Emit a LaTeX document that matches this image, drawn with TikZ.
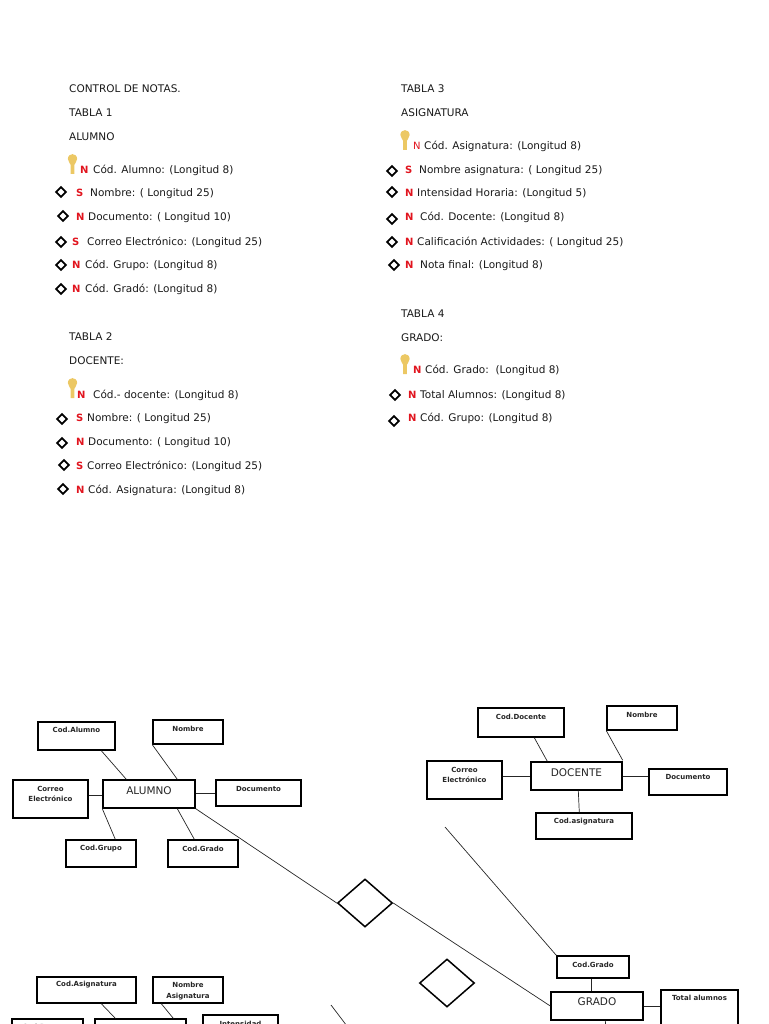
\documentclass[tikz,border=0pt]{standalone}
\usepackage{fontspec}
\setmainfont{DejaVu Sans}
\usetikzlibrary{shapes.geometric,calc}
\definecolor{keygold}{RGB}{236,200,100}
\definecolor{notered}{RGB}{225,20,30}
\tikzset{
  x=1pt,y=-1pt,
  txt/.style={anchor=base west,inner sep=0pt,font=\fontsize{10.5}{12}\selectfont,text=black!90},
  flag/.style={anchor=base west,inner sep=0pt,font=\fontsize{10}{12}\selectfont\bfseries,text=notered},
  flagthin/.style={anchor=base west,inner sep=0pt,font=\fontsize{10}{12}\selectfont,text=notered},
  bullet/.style={diamond,draw=black,line width=1.8pt,inner sep=0pt,minimum width=10.5pt,minimum height=10.5pt},
  entity/.style={draw=black,line width=1.4pt,inner sep=0pt,font=\fontsize{10.5}{12}\selectfont,text=black!85},
  attrib/.style={draw=black,line width=1.4pt,inner sep=0pt,font=\fontsize{7}{10.5}\selectfont\bfseries,align=center,text=black!85},
  rel/.style={diamond,draw=black,line width=1.5pt,inner sep=0pt,minimum width=55pt,minimum height=48pt},
  conn/.style={draw=black!85,line width=.7pt},
}
% box: name, x0, y0, x1, y1, text, text-y
\newcommand{\ebox}[8][attrib]{%
  \node[#1,minimum width=#5pt-#3pt,minimum height=#6pt-#4pt] (#2) at ({(#3+#5)/2},{(#4+#6)/2}) {};
  \node[#1,draw=none,anchor=center] (#2t) at ({(#3+#5)/2},#8) {#7};
}
% field row
\newcommand{\frow}[8]{%
  \node[bullet] (#1d) at (#2,#3) {};
  \node[flag] (#1f) at (#4,#7+4.4) {#5};
  \node[txt] (#1t) at (#6,#7+4.4) {#8};
}
\newcommand{\krow}[8]{%
  \fill[keygold] (#2-4.6,#3) .. controls (#2-4.6,#3-6.5) and (#2+4.6,#3-6.5) .. (#2+4.6,#3)
     .. controls (#2+4.6,#3+3) and (#2+2,#3+4) .. (#2+1.8,#3+6) -- (#2+1.8,#3+15) -- (#2-1.8,#3+15) -- (#2-1.8,#3+6)
     .. controls (#2-2,#3+4) and (#2-4.6,#3+3) .. (#2-4.6,#3) -- cycle;
  \node[#7] (#1f) at (#4,#5+4.4) {N};
  \node[txt] (#1t) at (#6,#5+4.4) {#8};
}
\newcommand{\lbl}[4]{\node[txt] (#1) at (#2,#3+4.4) {#4};}
\begin{document}
\begin{tikzpicture}
\useasboundingbox (0,0) rectangle (768,1024);
\clip (0,0) rectangle (768,1024);
% --- Table 1
\lbl{ta}{69}{88}{CONTROL DE NOTAS.}
\lbl{tb}{69}{112}{TABLA 1}
\lbl{tc}{69}{136}{ALUMNO}
\krow{a0}{72.5}{159}{80}{169}{93}{flag}{Cód. Alumno: (Longitud 8)}
\frow{a1}{61}{192}{76}{S}{90}{192}{Nombre: ( Longitud 25)}
\frow{a2}{63}{216}{76}{N}{88}{216}{Documento: ( Longitud 10)}
\frow{a3}{61}{242}{72}{S}{87}{241}{Correo Electrónico: (Longitud 25)}
\frow{a4}{61}{265}{72}{N}{85}{264}{Cód. Grupo: (Longitud 8)}
\frow{a5}{61}{289}{72}{N}{85}{288}{Cód. Gradó: (Longitud 8)}
% --- Table 2
\lbl{td}{69}{336}{TABLA 2}
\lbl{te}{69}{360}{DOCENTE:}
\krow{b0}{72.5}{383}{77}{394}{93}{flag}{Cód.- docente: (Longitud 8)}
\frow{b1}{62}{419}{76}{S}{87}{417}{Nombre: ( Longitud 25)}
\frow{b2}{62}{443}{76}{N}{88}{441}{Documento: ( Longitud 10)}
\frow{b3}{64}{465}{76}{S}{87}{465}{Correo Electrónico: (Longitud 25)}
\frow{b4}{63}{489}{76}{N}{88}{489}{Cód. Asignatura: (Longitud 8)}
% --- Table 3
\lbl{tf}{401}{88}{TABLA 3}
\lbl{tg}{401}{112}{ASIGNATURA}
\krow{c0}{405}{135}{413}{145}{424}{flagthin}{Cód. Asignatura: (Longitud 8)}
\frow{c1}{392}{171}{405}{S}{419}{169}{Nombre asignatura: ( Longitud 25)}
\frow{c2}{392}{192}{405}{N}{417}{192}{Intensidad Horaria: (Longitud 5)}
\frow{c3}{392}{219}{405}{N}{420}{216}{Cód. Docente: (Longitud 8)}
\frow{c4}{392}{242}{405}{N}{417}{241}{Calificación Actividades: ( Longitud 25)}
\frow{c5}{394}{265}{405}{N}{420}{264}{Nota final: (Longitud 8)}
% --- Table 4
\lbl{th}{401}{313}{TABLA 4}
\lbl{ti}{401}{337}{GRADO:}
\krow{d0}{405}{359}{413}{369}{425}{flag}{Cód. Grado:\ \ (Longitud 8)}
\frow{d1}{395}{395}{408}{N}{420}{394}{Total Alumnos: (Longitud 8)}
\frow{d2}{394}{421}{408}{N}{420}{417}{Cód. Grupo: (Longitud 8)}
% --- ER: ALUMNO
\ebox{codal}{38}{722}{115}{750}{Cod.Alumno}{730}
\ebox{nomal}{153}{720}{223}{744}{Nombre}{729}
\ebox[entity]{alumno}{103}{780}{195}{808}{ALUMNO}{791}
\ebox{coral}{13}{780}{88}{818}{Correo\\Electrónico}{794}
\ebox{docal}{216}{780}{301}{806}{Documento}{789}
\ebox{grpal}{66}{840}{136}{867}{Cod.Grupo}{849}
\ebox{graal}{168}{840}{238}{867}{Cod.Grado}{849}
\draw[conn] ([xshift=64pt]codal.south west) -- ([xshift=24pt]alumno.north west);
\draw[conn] (nomal.south west) -- ([xshift=75pt]alumno.north west);
\draw[conn] ([yshift=-1pt]coral.east |- alumno.center) -- ([yshift=-1pt]alumno.west |- alumno.center);
\draw[conn] (alumno.east |- docal.center) -- (docal.west);
\draw[conn] (alumno.south west) -- ([xshift=50pt]grpal.north west);
\draw[conn] ([xshift=75pt]alumno.south west) -- ([xshift=27pt]graal.north west);
% --- ER: DOCENTE
\ebox{coddo}{478}{708}{564}{737}{Cod.Docente}{717}
\ebox{nomdo}{607}{706}{677}{730}{Nombre}{715}
\ebox[entity]{docente}{531}{762}{622}{790}{DOCENTE}{773}
\ebox{cordo}{427}{761}{502}{799}{Correo\\Electrónico}{775}
\ebox{docdo}{649}{769}{727}{795}{Documento}{777}
\ebox{asido}{536}{813}{632}{839}{Cod.asignatura}{822}
\draw[conn] ([xshift=57pt]coddo.south west) -- ([xshift=17pt]docente.north west);
\draw[conn] (nomdo.south west) -- ([yshift=1pt]docente.north east);
\draw[conn] (cordo.east |- docente.center) -- (docente.west);
\draw[conn] (docente.east) -- (docdo.west |- docente.center);
\draw[conn] ([xshift=48pt]docente.south west) -- ([xshift=44pt]asido.north west);
% --- ER: GRADO
\ebox{cgrgr}{557}{956}{629}{978}{Cod.Grado}{965}
\ebox[entity]{grado}{551}{992}{643}{1020}{GRADO}{1002}
\ebox{totgr}{661}{990}{738}{1060}{Total alumnos}{998}
\draw[conn] ([xshift=35pt]cgrgr.south west) -- ([xshift=41pt]grado.north west);
\draw[conn] (grado.east) -- (totgr.west |- grado.center);
\coordinate (gradodown) at (606,1030);
\draw[conn] ([xshift=55pt]grado.south west) -- (gradodown);
% --- Relationships
\node[rel] (rela) at (365,903) {};
\node[rel] (relb) at (447,983) {};
\draw[conn] (alumno.south east) -- (rela.west);
\draw[conn] (rela.east) -- (grado.west);
\coordinate (freea) at (445,827);
\draw[conn] (freea) -- (cgrgr.north west);
\coordinate (freeb) at (331,1005);
\coordinate (freec) at (350,1030);
\draw[conn] (freeb) -- (freec);
% --- ER: ASIGNATURA (cut by the page)
\ebox{codas}{37}{977}{136}{1003}{Cod.Asignatura}{985}
\ebox{nomas}{153}{977}{223}{1003}{Nombre\\Asignatura}{991}
\ebox[attrib]{leftas}{12}{1019}{83}{1060}{Cod.Docente}{1027}
\ebox[entity]{asigas}{95}{1019}{186}{1050}{ASIGNATURA}{1031}
\ebox{intas}{203}{1015}{278}{1060}{Intensidad\\Horaria}{1029}
\draw[conn] ([xshift=65pt]codas.south west) -- ([xshift=21pt]asigas.north west);
\draw[conn] ([xshift=9pt]nomas.south west) -- ([xshift=79pt]asigas.north west);
\end{tikzpicture}
\end{document}
